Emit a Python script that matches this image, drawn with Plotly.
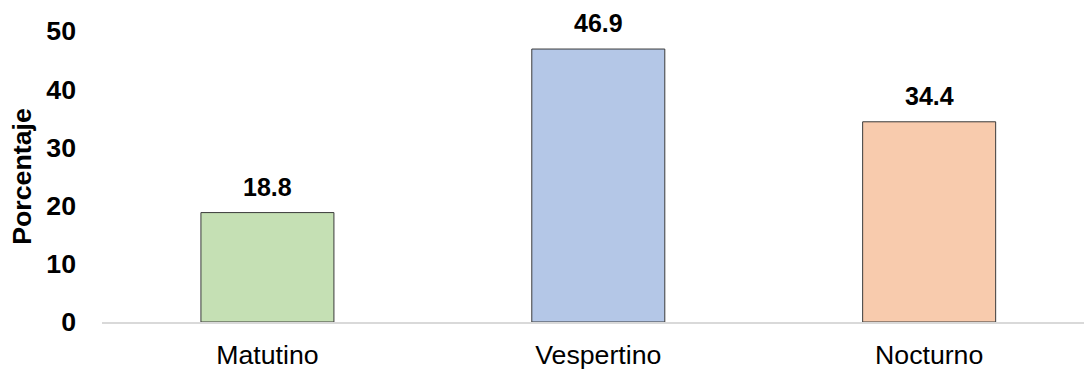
import plotly.graph_objects as go

# Shift categories and their share of responses (%)
categories = ["Matutino", "Vespertino", "Nocturno"]
values = [18.8, 46.9, 34.4]
bar_colors = ["#C5E0B4", "#B4C7E7", "#F8CBAD"]
y_ticks = [0, 10, 20, 30, 40, 50]

FONT = "Liberation Sans, Arial, sans-serif"

fig = go.Figure(
    go.Bar(
        x=categories,
        y=values,
        width=0.402,
        marker=dict(color=bar_colors, line=dict(color="#3a3a3a", width=1)),
        hoverinfo="x+y",
    )
)

# Value labels above each bar
for cat, val in zip(categories, values):
    fig.add_annotation(
        x=cat, y=val, text=f"<b>{val:.1f}</b>", showarrow=False,
        yanchor="bottom", yshift=10,
        font=dict(family=FONT, size=25, color="#000000"),
    )

fig.update_layout(
    width=1084, height=370,
    margin=dict(l=102, r=0, t=31, b=46),
    paper_bgcolor="white", plot_bgcolor="white",
    showlegend=False,
    font=dict(family=FONT, color="#000000"),
)

fig.update_xaxes(
    range=[-0.5, 2.468],
    showline=True, linecolor="#D9D9D9", linewidth=2,
    showgrid=False, zeroline=False, ticks="",
    tickfont=dict(size=26.7),
    ticklabelstandoff=8,
)

fig.update_yaxes(
    range=[0, 50],
    tickvals=y_ticks,
    ticktext=[f"<b>{t}</b>" for t in y_ticks],
    tickfont=dict(size=26.7),
    showline=False, showgrid=False, zeroline=False, ticks="",
    ticklabelstandoff=25,
    title=dict(text="<b>Porcentaje</b>", font=dict(size=26.7), standoff=6),
)

fig.write_html("out.html")
